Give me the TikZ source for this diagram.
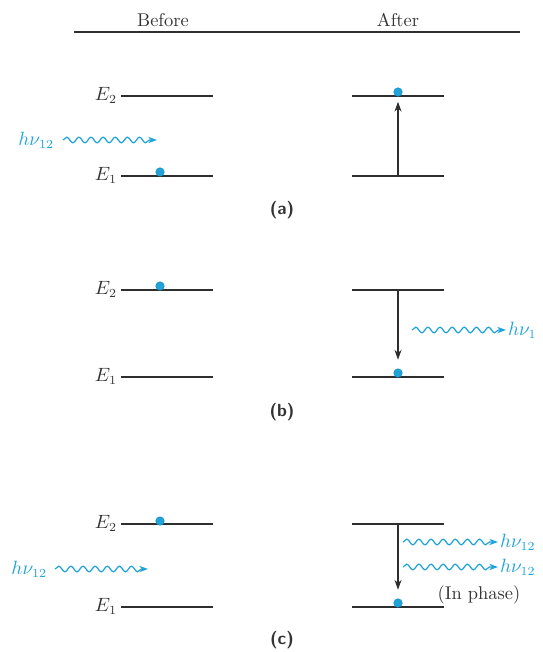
\documentclass[tikz,border=0pt]{standalone}
\usepackage{tikz}
\usetikzlibrary{arrows.meta, decorations.pathmorphing, positioning}
\definecolor{lvlink}{HTML}{2E2E2E}
\definecolor{lvltext}{HTML}{333333}
\definecolor{photoncyan}{HTML}{1FA3D9}
\definecolor{dotcore}{HTML}{1591C7}
\tikzset{
  levelline/.style={
    draw=lvlink,
    line width=0.8pt
  },
  levellabel/.style={
    anchor=east,
    inner sep=1pt,
    text=lvltext,
    font=\fontsize{10.5}{12}\selectfont
  },
  electron/.style={
    circle,
    fill=photoncyan,
    draw=dotcore,
    line width=0.3pt,
    inner sep=0pt,
    minimum size=0.17cm
  },
  transition/.style={
    -{Stealth[length=5.6pt,width=4pt]},
    draw=lvlink,
    line width=0.75pt
  },
  photon/.style={
    -{Stealth[length=5pt,width=3.6pt]},
    draw=photoncyan,
    line width=0.7pt,
    decorate,
    decoration={snake, amplitude=1.6pt, segment length=6.9pt, post length=3pt}
  },
  photonlabel/.style={
    text=photoncyan,
    inner sep=1pt,
    font=\fontsize{10.5}{12}\selectfont
  },
  caseletter/.style={
    font=\sffamily\bfseries\normalsize,
    text=lvltext
  },
  colhead/.style={
    font=\fontsize{10.5}{12}\selectfont,
    text=lvltext
  }
}

\begin{document}
\begin{tikzpicture}[x=0.02cm,y=-0.02cm]
\useasboundingbox (0,0) rectangle (542,652);

% column heads
\node[colhead] (before) at (163,20) {Before};
\node[colhead] (after) at (398,20) {After};
\coordinate (ruleL) at (74,32);
\coordinate (ruleR) at (520,32);
\draw[draw=lvlink, line width=0.7pt] (ruleL) -- (ruleR);

% (a) absorption
\coordinate (aL2a) at (121,96);  \coordinate (aL2b) at (213,96);
\coordinate (aL1a) at (121,176); \coordinate (aL1b) at (213,176);
\coordinate (aR2a) at (352,96);  \coordinate (aR2b) at (444,96);
\coordinate (aR1a) at (352,176); \coordinate (aR1b) at (444,176);
\coordinate (aR1m) at (398,176);
\draw[levelline] (aL2a) -- (aL2b);
\draw[levelline] (aL1a) -- (aL1b);
\draw[levelline] (aR2a) -- (aR2b);
\draw[levelline] (aR1a) -- (aR1b);
\node[levellabel] (aE2) at (119,95) {$E_2$};
\node[levellabel] (aE1) at (119,175) {$E_1$};
\node[electron] (aDotL) at (160,172) {};
\node[electron] (aDotR) at (398,92) {};
\draw[transition, shorten >=3pt] (aR1m) -- (aDotR.south);
\node[photonlabel, anchor=east] (aPh) at (56,140) {$h\nu_{12}$};
\coordinate (aWs) at (63,140);
\coordinate (aW) at (157,140);
\draw[photon] (aWs) -- (aW);
\node[caseletter] (caseA) at (282,210) {(a)};

% (b) spontaneous emission
\coordinate (bL2a) at (121,290); \coordinate (bL2b) at (213,290);
\coordinate (bL1a) at (121,377); \coordinate (bL1b) at (213,377);
\coordinate (bR2a) at (352,290); \coordinate (bR2b) at (444,290);
\coordinate (bR1a) at (352,377); \coordinate (bR1b) at (444,377);
\coordinate (bR2m) at (398,290);
\draw[levelline] (bL2a) -- (bL2b);
\draw[levelline] (bL1a) -- (bL1b);
\draw[levelline] (bR2a) -- (bR2b);
\draw[levelline] (bR1a) -- (bR1b);
\node[levellabel] (bE2) at (119,289) {$E_2$};
\node[levellabel] (bE1) at (119,376) {$E_1$};
\node[electron] (bDotL) at (160,286) {};
\node[electron] (bDotR) at (398,373) {};
\draw[transition, shorten >=5pt] (bR2m) -- (bDotR.north);
\coordinate (bW) at (412,330);
\node[photonlabel, anchor=west] (bPh) at (506,330) {$h\nu_1$};
\draw[photon] (bW) -- (bPh);
\node[caseletter] (caseB) at (282,412) {(b)};

% (c) stimulated emission
\coordinate (cL2a) at (121,524); \coordinate (cL2b) at (213,524);
\coordinate (cL1a) at (121,607); \coordinate (cL1b) at (213,607);
\coordinate (cR2a) at (352,524); \coordinate (cR2b) at (444,524);
\coordinate (cR1a) at (352,607); \coordinate (cR1b) at (444,607);
\coordinate (cR2m) at (398,524);
\draw[levelline] (cL2a) -- (cL2b);
\draw[levelline] (cL1a) -- (cL1b);
\draw[levelline] (cR2a) -- (cR2b);
\draw[levelline] (cR1a) -- (cR1b);
\node[levellabel] (cE2) at (119,523) {$E_2$};
\node[levellabel] (cE1) at (119,606) {$E_1$};
\node[electron] (cDotL) at (160,521) {};
\node[electron] (cDotR) at (398,603) {};
\draw[transition, shorten >=5pt] (cR2m) -- (cDotR.north);
\node[photonlabel, anchor=east] (cPh) at (49,569) {$h\nu_{12}$};
\coordinate (cWs) at (55,569);
\coordinate (cW) at (148,569);
\draw[photon] (cWs) -- (cW);
\coordinate (cWa) at (403,542);
\coordinate (cWb) at (403,567);
\node[photonlabel, anchor=west] (cPhA) at (498,542) {$h\nu_{12}$};
\node[photonlabel, anchor=west] (cPhB) at (498,567) {$h\nu_{12}$};
\draw[photon] (cWa) -- (cPhA);
\draw[photon] (cWb) -- (cPhB);
\node[colhead] (phase) at (479,595) {(In phase)};
\node[caseletter] (caseC) at (282,640) {(c)};
\end{tikzpicture}
\end{document}
